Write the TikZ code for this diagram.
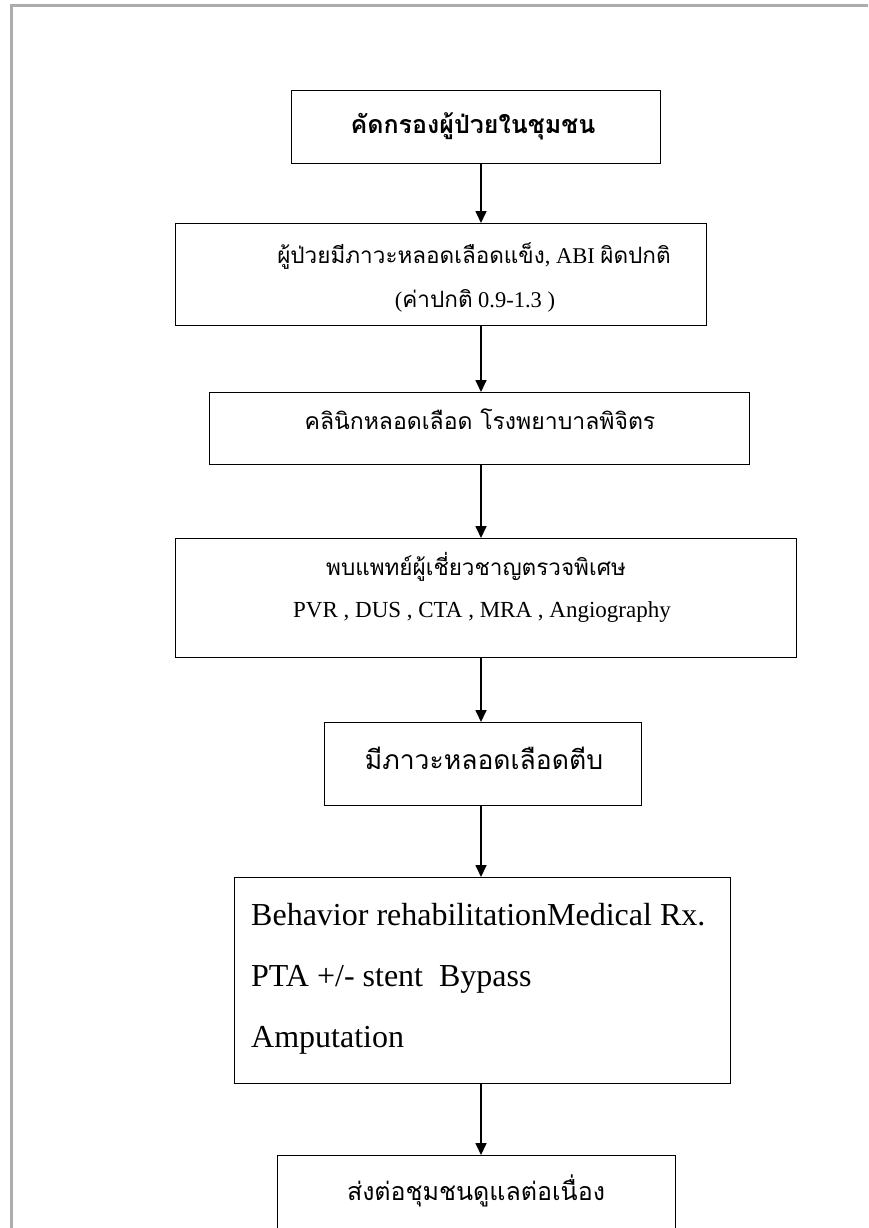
\documentclass[tikz,border=0pt]{standalone}
\usepackage{fontspec}
\setmainfont{Liberation Serif}
\newfontfamily\thai[Script=Thai]{Loma}
\usetikzlibrary{arrows.meta}
\newcommand{\thx}[1]{{\thai #1}}
\begin{document}
\begin{tikzpicture}[x=1pt,y=-1pt,
  box/.style={draw,line width=1.4pt,inner sep=0pt,anchor=north west},
  lbl/.style={inner sep=0pt,anchor=base},
  arr/.style={line width=1.7pt,-{Triangle[length=12pt,width=11pt]}}]
\useasboundingbox (0,0) rectangle (868,1228);
\clip (0,0) rectangle (868,1228);
\fill[white] (0,0) rectangle (868,1228);
\draw[gray!65,line width=3pt] (11,1240) -- (11,6) -- (880,6);
% boxes
\node[box,minimum width=369pt,minimum height=73pt] (b1) at (291,90) {};
\node[box,minimum width=531pt,minimum height=102pt] (b2) at (175,223) {};
\node[box,minimum width=540pt,minimum height=72pt] (b3) at (209,392) {};
\node[box,minimum width=621pt,minimum height=119pt] (b4) at (175,538) {};
\node[box,minimum width=317pt,minimum height=83pt] (b5) at (324,722) {};
\node[box,minimum width=496pt,minimum height=206pt] (b6) at (234,877) {};
\node[box,minimum width=398pt,minimum height=120pt] (b7) at (277,1155) {};
% texts
\node[lbl,font=\fontsize{25}{30}\selectfont] (t1) at (473,134) {\thai\bfseries คัดกรองผู้ป่วยในชุมชน};
\node[lbl,font=\fontsize{22.5}{26}\selectfont] (t2a) at (474,263) {\thx{ผู้ป่วยมีภาวะหลอดเลือดแข็ง}, ABI \thx{ผิดปกติ}};
\node[lbl,font=\fontsize{22.5}{26}\selectfont] (t2b) at (475,307) {(\thx{ค่าปกติ} 0.9-1.3 )};
\node[lbl,font=\fontsize{23}{26}\selectfont] (t3) at (480,429) {\thx{คลินิกหลอดเลือด โรงพยาบาลพิจิตร}};
\node[lbl,font=\fontsize{22.5}{26}\selectfont] (t4a) at (476,575) {\thx{พบแพทย์ผู้เชี่ยวชาญตรวจพิเศษ}};
\node[lbl,font=\fontsize{23}{26}\selectfont] (t4b) at (482,617) {PVR , DUS , CTA , MRA , Angiography};
\node[lbl,font=\fontsize{26.5}{30}\selectfont] (t5) at (484,769) {\thx{มีภาวะหลอดเลือดตีบ}};
\node[lbl,anchor=base west,font=\fontsize{32}{36}\selectfont] (t6a) at (251,925) {Behavior rehabilitationMedical Rx.};
\node[lbl,anchor=base west,font=\fontsize{32}{36}\selectfont] (t6b) at (251,986) {PTA +/- stent\ \ Bypass};
\node[lbl,anchor=base west,font=\fontsize{32}{36}\selectfont] (t6c) at (251,1047) {Amputation};
\node[lbl,font=\fontsize{25}{30}\selectfont] (t7) at (476,1200) {\thx{ส่งต่อชุมชนดูแลต่อเนื่อง}};
% connectors
\coordinate (ax) at (481,0);
\draw[arr] (b1.south -| ax) -- (b2.north -| ax);
\draw[arr] (b2.south -| ax) -- (b3.north -| ax);
\draw[arr] (b3.south -| ax) -- (b4.north -| ax);
\draw[arr] (b4.south -| ax) -- (b5.north -| ax);
\draw[arr] (b5.south -| ax) -- (b6.north -| ax);
\draw[arr] (b6.south -| ax) -- (b7.north -| ax);
\end{tikzpicture}
\end{document}
